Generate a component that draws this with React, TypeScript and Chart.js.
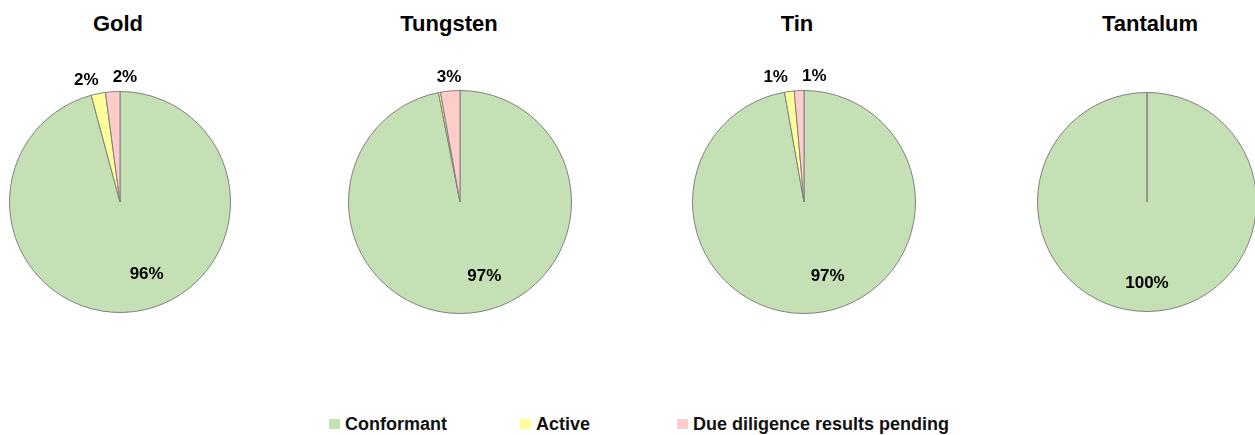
import React, { useEffect, useRef } from "react";
import { Chart, registerables } from "chart.js";

Chart.register(...registerables);

// ---- Data ----
const categories = ["Conformant", "Active", "Due diligence results pending"];
const metals = ["Gold", "Tungsten", "Tin", "Tantalum"];
const goldValues = [95.8, 2.1, 2.1];
const tungstenValues = [96.9, 0.3, 2.8];
const tinValues = [97.2, 1.4, 1.4];
const tantalumValues = [100, 0, 0];
const seriesValues = [goldValues, tungstenValues, tinValues, tantalumValues];

// ---- Styles / layout ----
const sliceColors = ["#C5E0B4", "#FFFF99", "#FFCCCC"];
const borderColor = "#808080";
const FONT = '"Liberation Sans", Arial, sans-serif';
const pieCenters = [120, 460, 804, 1147];
const pieRadii = [111, 112, 112, 110];
const titleCenters = [118, 449, 797, 1150];
const legendLefts = [329, 520, 677];
const PIE_CY = 202;
const CANVAS_W = 300;
const CANVAS_TOP = 40;
const CANVAS_H = 330;

const sliceLabelPlugin = {
  id: "sliceLabels",
  afterDatasetsDraw(chart: any) {
    const ctx = chart.ctx;
    const meta = chart.getDatasetMeta(0);
    const data: number[] = chart.data.datasets[0].data;
    const total = data.reduce((a, b) => a + b, 0);
    ctx.save();
    ctx.font = `bold 17px ${FONT}`;
    ctx.fillStyle = "#000";
    ctx.textAlign = "center";
    ctx.textBaseline = "middle";
    const outside: { x: number; y: number; text: string; w: number }[] = [];
    meta.data.forEach((arc: any, i: number) => {
      const frac = data[i] / total;
      const pct = Math.round(frac * 100);
      if (pct < 1) return;
      const p = arc.getProps(["x", "y", "startAngle", "endAngle", "outerRadius"], true);
      const mid = (p.startAngle + p.endAngle) / 2;
      const text = pct + "%";
      if (frac >= 0.1) {
        const full = frac > 0.999;
        const a = mid + (full ? 0 : -0.22);
        const r = p.outerRadius * (full ? 0.74 : 0.7);
        ctx.fillText(text, p.x + Math.cos(a) * r, p.y + Math.sin(a) * r);
      } else {
        const r = p.outerRadius + 14;
        outside.push({
          x: p.x + Math.cos(mid) * r,
          y: p.y + Math.sin(mid) * r,
          text,
          w: ctx.measureText(text).width,
        });
      }
    });
    outside.sort((a, b) => a.x - b.x);
    for (let i = 1; i < outside.length; i++) {
      const a = outside[i - 1];
      const b = outside[i];
      const gap = (a.w + b.w) / 2 + 14;
      if (b.x - a.x < gap) {
        const m = (a.x + b.x) / 2 + 2;
        a.x = m - gap / 2;
        b.x = m + gap / 2;
      }
    }
    outside.forEach((o) => ctx.fillText(o.text, o.x, o.y));
    ctx.restore();
  },
};

function PieChart({ index }: { index: number }) {
  const ref = useRef<HTMLCanvasElement>(null);
  const r = pieRadii[index];
  const cyLocal = PIE_CY - CANVAS_TOP;
  useEffect(() => {
    if (!ref.current) return;
    const chart = new Chart(ref.current, {
      type: "pie",
      data: {
        labels: categories,
        datasets: [
          {
            data: seriesValues[index],
            backgroundColor: sliceColors,
            borderColor: borderColor,
            borderWidth: 1,
          },
        ],
      },
      options: {
        animation: false,
        responsive: false,
        devicePixelRatio: 1,
        layout: {
          padding: {
            left: CANVAS_W / 2 - r,
            right: CANVAS_W / 2 - r,
            top: cyLocal - r,
            bottom: CANVAS_H - cyLocal - r,
          },
        },
        plugins: {
          legend: { display: false },
          tooltip: { enabled: false },
          title: { display: false },
        },
      },
      plugins: [sliceLabelPlugin],
    });
    return () => chart.destroy();
  }, [index]);
  return (
    <canvas
      ref={ref}
      width={CANVAS_W}
      height={CANVAS_H}
      style={{
        position: "absolute",
        left: pieCenters[index] - CANVAS_W / 2,
        top: CANVAS_TOP,
        width: CANVAS_W,
        height: CANVAS_H,
      }}
    />
  );
}

export default function App() {
  return (
    <div
      style={{
        position: "absolute",
        left: 0,
        top: 0,
        width: 1255,
        height: 435,
        overflow: "hidden",
        background: "#fff",
        fontFamily: FONT,
      }}
    >
      {metals.map((m, i) => (
        <div
          key={"t" + m}
          style={{
            position: "absolute",
            left: titleCenters[i] - 100,
            width: 200,
            top: 10,
            height: 28,
            lineHeight: "28px",
            textAlign: "center",
            fontWeight: "bold",
            fontSize: 22,
            color: "#000",
          }}
        >
          {m}
        </div>
      ))}
      {metals.map((m, i) => (
        <PieChart key={"c" + m} index={i} />
      ))}
      {categories.map((c, i) => (
        <div
          key={"l" + c}
          style={{
            position: "absolute",
            left: legendLefts[i],
            top: 413,
            height: 22,
            display: "flex",
            alignItems: "center",
            whiteSpace: "nowrap",
            fontWeight: "bold",
            fontSize: 18,
            color: "#111",
          }}
        >
          <span
            style={{
              display: "inline-block",
              width: 11,
              height: 10,
              background: sliceColors[i],
              marginRight: 5,
            }}
          />
          {c}
        </div>
      ))}
    </div>
  );
}
